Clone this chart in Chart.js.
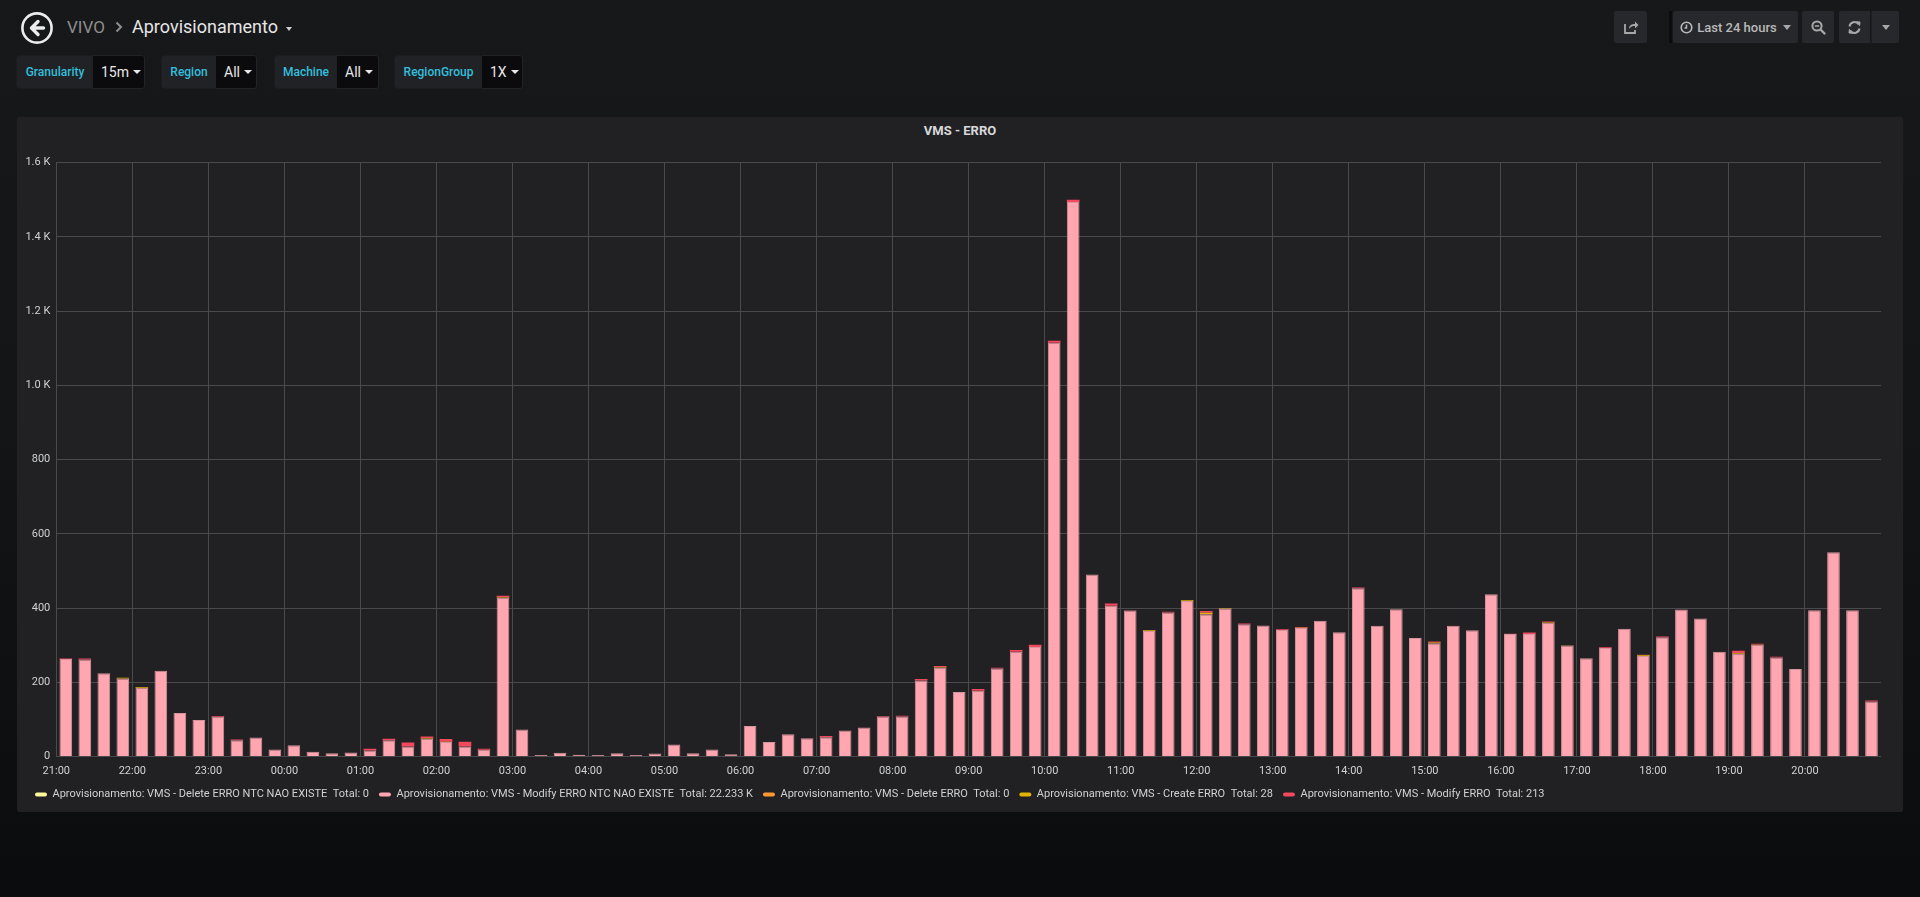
<!DOCTYPE html>
<html>
<head>
<meta charset="utf-8">
<title>VIVO / Aprovisionamento - VMS - ERRO</title>
<script src="https://cdn.jsdelivr.net/npm/chart.js@4.4.0/dist/chart.umd.min.js"></script>
<style>
  html, body { margin: 0; padding: 0; width: 1920px; height: 897px; overflow: hidden; }
  body {
    position: relative;
    background: linear-gradient(#17181a 0%, #141517 45%, #0b0c0e 100%);
    font-family: Roboto, "Noto Sans", sans-serif;
    color: #d8d9da;
  }
  .abs { position: absolute; }

  /* header */
  .back { left: 21px; top: 12px; width: 32px; height: 32px; }
  .crumb { top: 15px; line-height: 24px; white-space: nowrap; }
  .crumb.parent { left: 67px; color: #8e8e8e; font-size: 17px; }
  .crumb.title { left: 132px; color: #e6e6e6; font-size: 18px; }
  .chev { left: 114px; top: 20px; }
  .title-caret { left: 286px; top: 27px; border-left: 3.5px solid transparent; border-right: 3.5px solid transparent; border-top: 4px solid #cfcfcf; width: 0; height: 0; }

  /* template variables */
  .var { top: 55px; height: 34px; display: flex; border-radius: 3px; overflow: hidden; font-size: 12px; }
  .var .lbl { background: #212226; color: #33bfdc; font-weight: 500; display: flex; align-items: center; justify-content: center; box-sizing: border-box; border: 1px solid #1b1c1f; border-right: none; border-radius: 3px 0 0 3px; }
  .var .val { background: #0b0b0d; color: #e8e8e8; font-size: 14px; display: flex; align-items: center; padding-left: 8px; box-sizing: border-box; border: 1px solid #232327; border-left: none; border-radius: 0 3px 3px 0; }
  .var .val i { display: inline-block; margin-left: 4px; width: 0; height: 0; border-left: 4px solid transparent; border-right: 4px solid transparent; border-top: 4px solid #e8e8e8; }

  /* right buttons */
  .btn { top: 11px; height: 32px; background: #27282b; border-radius: 2px; display: flex; align-items: center; justify-content: center; color: #a8a8a8; }
  .sep { left: 1669px; top: 11px; width: 3px; height: 32px; background: #0b0c0e; }
  .tp { font-size: 13px; font-weight: 500; color: #b9b9b9; }
  .tp i, .drop i { display: inline-block; width: 0; height: 0; border-left: 4px solid transparent; border-right: 4px solid transparent; border-top: 5px solid #a8a8a8; }

  /* panel */
  .panel { left: 17px; top: 117px; width: 1886px; height: 695px; background: #212124; border-radius: 2px; }
  .ptitle { left: 17px; top: 123px; width: 1886px; text-align: center; font-size: 13px; font-weight: 700; color: #d8d9da; line-height: 16px; }
  .chart-box { left: 17px; top: 150px; width: 1886px; height: 662px; }
</style>
</head>
<body>

<!-- header -->
<svg class="abs back" viewBox="0 0 32 32">
  <circle cx="16" cy="16" r="14.6" fill="none" stroke="#ececec" stroke-width="2.6"/>
  <path d="M17 9.5 L10.5 16 L17 22.5 M11 16 H22.5" fill="none" stroke="#ececec" stroke-width="3.4" stroke-linecap="round" stroke-linejoin="round"/>
</svg>
<div class="abs crumb parent">VIVO</div>
<svg class="abs chev" width="10" height="14" viewBox="0 0 10 14"><path d="M2.5 2.5 L7 7 L2.5 11.5" fill="none" stroke="#8e8e8e" stroke-width="2"/></svg>
<div class="abs crumb title">Aprovisionamento</div>
<div class="abs title-caret"></div>

<div class="abs var" style="left:16px"><div class="lbl" style="width:77px">Granularity</div><div class="val" style="width:52px">15m<i></i></div></div>
<div class="abs var" style="left:161px"><div class="lbl" style="width:55px">Region</div><div class="val" style="width:41px">All<i></i></div></div>
<div class="abs var" style="left:274px"><div class="lbl" style="width:63px">Machine</div><div class="val" style="width:42px">All<i></i></div></div>
<div class="abs var" style="left:394px"><div class="lbl" style="width:88px">RegionGroup</div><div class="val" style="width:41px">1X<i></i></div></div>

<div class="abs btn" style="left:1614px;width:33px">
  <svg width="16" height="16" viewBox="0 0 16 16"><path d="M2 5 V14 H12 V11" fill="none" stroke="#a8a8a8" stroke-width="1.8"/><path d="M6 10 C6 6 9 5 12 5 V2.5 L15.5 6 L12 9.5 V7 C10 7 7.5 7.5 6 10 Z" fill="#a8a8a8"/></svg>
</div>
<div class="abs sep"></div>
<div class="abs btn tp" style="left:1673px;width:125px">
  <svg width="13" height="13" viewBox="0 0 13 13" style="margin-right:4px"><circle cx="6.5" cy="6.5" r="5.3" fill="none" stroke="#b9b9b9" stroke-width="1.6"/><path d="M6.5 3.5 V7 H4.5" fill="none" stroke="#b9b9b9" stroke-width="1.5"/></svg>
  Last 24 hours<i style="margin-left:6px"></i>
</div>
<div class="abs btn" style="left:1802px;width:32px">
  <svg width="15" height="15" viewBox="0 0 15 15"><circle cx="6" cy="6" r="4.6" fill="none" stroke="#a8a8a8" stroke-width="2"/><path d="M3.8 6 H8.2" stroke="#a8a8a8" stroke-width="1.6"/><path d="M9.5 9.5 L13.5 13.5" stroke="#a8a8a8" stroke-width="2.4" stroke-linecap="round"/></svg>
</div>
<div class="abs btn" style="left:1839px;width:31px;border-radius:2px 0 0 2px">
  <svg width="15" height="15" viewBox="0 0 15 15"><path d="M2.5 6.5 A5 5 0 0 1 11.5 4.2" fill="none" stroke="#a8a8a8" stroke-width="2"/><path d="M9.5 1.8 L13 2 L12.6 5.6 Z" fill="#a8a8a8" stroke="#a8a8a8" stroke-width="1"/><path d="M12.5 8.5 A5 5 0 0 1 3.5 10.8" fill="none" stroke="#a8a8a8" stroke-width="2"/><path d="M5.5 13.2 L2 13 L2.4 9.4 Z" fill="#a8a8a8" stroke="#a8a8a8" stroke-width="1"/></svg>
</div>
<div class="abs btn drop" style="left:1871px;width:27px;border-radius:0 2px 2px 0;border-left:1px solid #1d1e20"><i></i></div>

<!-- panel -->
<div class="abs panel"></div>
<div class="abs ptitle">VMS - ERRO</div>
<div class="abs chart-box"><canvas id="chart"></canvas></div>

<script>
// 15 minute buckets, last 24 hours (21:00 -> 20:45)
const times = [
  "21:00", "21:15", "21:30", "21:45", "22:00", "22:15", "22:30", "22:45", "23:00", "23:15", "23:30", "23:45",
  "00:00", "00:15", "00:30", "00:45", "01:00", "01:15", "01:30", "01:45", "02:00", "02:15", "02:30", "02:45",
  "03:00", "03:15", "03:30", "03:45", "04:00", "04:15", "04:30", "04:45", "05:00", "05:15", "05:30", "05:45",
  "06:00", "06:15", "06:30", "06:45", "07:00", "07:15", "07:30", "07:45", "08:00", "08:15", "08:30", "08:45",
  "09:00", "09:15", "09:30", "09:45", "10:00", "10:15", "10:30", "10:45", "11:00", "11:15", "11:30", "11:45",
  "12:00", "12:15", "12:30", "12:45", "13:00", "13:15", "13:30", "13:45", "14:00", "14:15", "14:30", "14:45",
  "15:00", "15:15", "15:30", "15:45", "16:00", "16:15", "16:30", "16:45", "17:00", "17:15", "17:30", "17:45",
  "18:00", "18:15", "18:30", "18:45", "19:00", "19:15", "19:30", "19:45", "20:00", "20:15", "20:30", "20:45",
];

// Aprovisionamento: VMS - Delete ERRO NTC NAO EXISTE
const deleteNtc = [
  0, 0, 0, 0, 0, 0, 0, 0, 0, 0, 0, 0,
  0, 0, 0, 0, 0, 0, 0, 0, 0, 0, 0, 0,
  0, 0, 0, 0, 0, 0, 0, 0, 0, 0, 0, 0,
  0, 0, 0, 0, 0, 0, 0, 0, 0, 0, 0, 0,
  0, 0, 0, 0, 0, 0, 0, 0, 0, 0, 0, 0,
  0, 0, 0, 0, 0, 0, 0, 0, 0, 0, 0, 0,
  0, 0, 0, 0, 0, 0, 0, 0, 0, 0, 0, 0,
  0, 0, 0, 0, 0, 0, 0, 0, 0, 0, 0, 0,
];

// Aprovisionamento: VMS - Modify ERRO NTC NAO EXISTE
const modifyNtc = [
  263, 261, 224, 210, 185, 231, 117, 98, 107, 44, 51, 19,
  30, 13, 9, 11, 16, 44, 27, 48, 39, 27, 18, 428,
  73, 4, 10, 5, 4, 9, 4, 8, 32, 9, 19, 6,
  82, 39, 60, 49, 52, 70, 78, 108, 108, 205, 240, 174,
  177, 237, 282, 295, 1115, 1494, 490, 406, 393, 338, 388, 419,
  383, 399, 356, 353, 341, 346, 366, 335, 453, 352, 397, 319,
  305, 352, 340, 437, 330, 330, 360, 299, 265, 292, 344, 271,
  321, 396, 372, 282, 277, 301, 267, 236, 394, 550, 394, 148,
];

// Aprovisionamento: VMS - Delete ERRO
const deleteErro = [
  0, 0, 0, 0, 0, 0, 0, 0, 0, 0, 0, 0,
  0, 0, 0, 0, 0, 0, 0, 0, 0, 0, 0, 0,
  0, 0, 0, 0, 0, 0, 0, 0, 0, 0, 0, 0,
  0, 0, 0, 0, 0, 0, 0, 0, 0, 0, 0, 0,
  0, 0, 0, 0, 0, 0, 0, 0, 0, 0, 0, 0,
  0, 0, 0, 0, 0, 0, 0, 0, 0, 0, 0, 0,
  0, 0, 0, 0, 0, 0, 0, 0, 0, 0, 0, 0,
  0, 0, 0, 0, 0, 0, 0, 0, 0, 0, 0, 0,
];

// Aprovisionamento: VMS - Create ERRO
const createErro = [
  0, 0, 0, 2, 2, 0, 0, 0, 0, 0, 0, 0,
  0, 0, 0, 0, 0, 0, 0, 1, 1, 0, 0, 1,
  0, 0, 0, 0, 0, 0, 0, 0, 0, 0, 0, 0,
  0, 0, 0, 0, 0, 0, 0, 0, 0, 0, 1, 0,
  0, 0, 0, 0, 0, 0, 0, 0, 0, 2, 0, 2,
  4, 1, 0, 0, 0, 1, 0, 0, 0, 0, 0, 0,
  2, 0, 0, 0, 0, 0, 2, 1, 0, 0, 0, 2,
  0, 0, 0, 0, 2, 1, 0, 0, 0, 0, 0, 0,
];

// Aprovisionamento: VMS - Modify ERRO
const modifyErro = [
  1, 3, 0, 0, 0, 0, 0, 0, 2, 2, 0, 0,
  0, 0, 0, 0, 5, 4, 11, 5, 7, 13, 3, 4,
  0, 0, 0, 0, 0, 0, 0, 0, 0, 0, 0, 0,
  0, 0, 0, 0, 3, 0, 0, 1, 2, 4, 3, 0,
  5, 2, 5, 6, 5, 6, 0, 6, 1, 0, 2, 0,
  5, 0, 2, 0, 2, 2, 0, 0, 2, 0, 0, 0,
  3, 0, 0, 0, 1, 4, 2, 0, 0, 2, 0, 1,
  2, 0, 0, 0, 6, 2, 2, 0, 0, 0, 0, 3,
];

const seriesNames = [
  "Aprovisionamento: VMS - Delete ERRO NTC NAO EXISTE",
  "Aprovisionamento: VMS - Modify ERRO NTC NAO EXISTE",
  "Aprovisionamento: VMS - Delete ERRO",
  "Aprovisionamento: VMS - Create ERRO",
  "Aprovisionamento: VMS - Modify ERRO",
];
const legendTotals = ["0", "22.233 K", "0", "28", "213"];
const yTicks = [0, 200, 400, 600, 800, 1000, 1200, 1400, 1600];

const seriesColors = ["#FFF899", "#FFA6B0", "#FF9830", "#E0B400", "#F2495C"];
const GRID = "#4a4a4d";
const TEXT = "#d0d1d2";

Chart.defaults.font.family = "Roboto, 'Noto Sans', sans-serif";
Chart.defaults.font.size = 11;
Chart.defaults.color = TEXT;

const seriesData = [deleteNtc, modifyNtc, deleteErro, createErro, modifyErro];

function yLabel(v) {
  return v >= 1000 ? (v / 1000).toFixed(1) + " K" : String(v);
}

new Chart(document.getElementById("chart"), {
  type: "bar",
  data: {
    labels: times,
    datasets: seriesData.map((data, i) => ({
      label: seriesNames[i],
      data,
      backgroundColor: seriesColors[i],
      borderColor: i === 1 ? "#d9939c" : seriesColors[i],
      borderWidth: i === 1 ? { left: 1, right: 1, top: 1, bottom: 0 } : 0,
      borderSkipped: "start",
      barPercentage: 0.667,
      categoryPercentage: 1,
    })),
  },
  options: {
    responsive: true,
    maintainAspectRatio: false,
    animation: false,
    layout: { padding: { left: 8, right: 22, top: 12, bottom: 2 } },
    plugins: {
      tooltip: { enabled: false },
      legend: {
        position: "bottom",
        align: "start",
        labels: {
          color: TEXT,
          boxWidth: 12,
          boxHeight: 4,
          padding: 10,
          useBorderRadius: true,
          borderRadius: 2,
          generateLabels: (chart) =>
            chart.data.datasets.map((ds, i) => ({
              text: ds.label + "  Total: " + legendTotals[i],
              fillStyle: seriesColors[i],
              strokeStyle: seriesColors[i],
              lineWidth: 0,
              fontColor: TEXT,
              hidden: false,
              datasetIndex: i,
              borderRadius: 2,
            })),
        },
      },
    },
    scales: {
      x: {
        stacked: true,
        offset: true,
        afterFit: (scale) => {
          scale.height = 22.5;
        },
        grid: {
          offset: true,
          drawTicks: false,
          color: (ctx) => (ctx.index !== undefined && ctx.index % 4 === 0 ? GRID : "transparent"),
        },
        border: { display: false },
        ticks: {
          autoSkip: false,
          maxRotation: 0,
          padding: 8,
          labelOffset: -9.5,
          color: TEXT,
          callback: (v, i) => (times[i].endsWith(":00") ? times[i] : ""),
        },
      },
      y: {
        stacked: true,
        min: yTicks[0],
        max: yTicks[yTicks.length - 1],
        afterBuildTicks: (scale) => {
          scale.ticks = yTicks.map((value) => ({ value }));
        },
        afterFit: (scale) => {
          scale.width = 31.3;
        },
        grid: { color: GRID, drawTicks: false },
        border: { display: false },
        ticks: { padding: 6, color: TEXT, callback: (v) => yLabel(v) },
      },
    },
  },
});
</script>
</body>
</html>
